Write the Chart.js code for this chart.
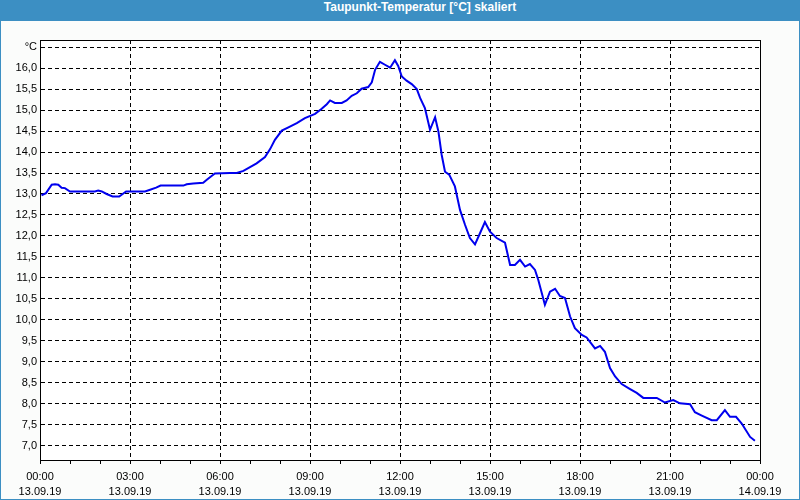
<!DOCTYPE html>
<html>
<head>
<meta charset="utf-8">
<script src="https://cdn.jsdelivr.net/npm/chart.js@4"></script>
<style>
  html, body { margin: 0; padding: 0; }
  #frame { position: relative; width: 798px; height: 478px; background: #3c8fc3;
           padding: 21px 1px 1px 1px; }
  #title { position: absolute; left: 0; top: 0; width: 800px; height: 21px; line-height: 22px;
           box-sizing: border-box; padding-left: 40px; text-align: center;
           color: #fff; font: bold 12px "Liberation Sans", Arial, sans-serif; }
  #body { width: 798px; height: 478px; background: #fbfcfb; }
</style>
</head>
<body>
<div id="frame">
  <div id="title">Taupunkt-Temperatur [°C] skaliert</div>
  <div id="body"><canvas id="chart" width="798" height="478"></canvas></div>
</div>
<script>
// hours since 13.09.19 00:00
var hours = [0.05, 0.2, 0.39, 0.5, 0.61, 0.72, 0.83, 1.0, 1.83, 1.94, 2.06, 2.22, 2.42, 2.64, 2.87,
  3.5, 3.67, 3.87, 4.02, 4.78, 4.89, 5.11, 5.44, 5.56, 5.72, 5.83, 6.33, 6.56, 6.78, 7.0, 7.22,
  7.5, 7.67, 7.83, 8.06, 8.28, 8.56, 8.83, 9.17, 9.39, 9.56, 9.67, 9.83, 10.06, 10.22, 10.39,
  10.56, 10.72, 10.94, 11.06, 11.17, 11.33, 11.5, 11.67, 11.83, 11.94, 12.06, 12.22, 12.39,
  12.56, 12.67, 12.83, 13.0, 13.17, 13.28, 13.39, 13.5, 13.64, 13.83, 14.0, 14.17, 14.33, 14.5,
  14.67, 14.83, 15.0, 15.22, 15.5, 15.67, 15.83, 16.0, 16.17, 16.33, 16.5, 16.61, 16.83, 17.0,
  17.17, 17.33, 17.5, 17.67, 17.83, 18.06, 18.22, 18.5, 18.67, 18.83, 19.0, 19.17, 19.39, 19.67,
  19.89, 20.11, 20.56, 20.83, 21.11, 21.33, 21.67, 21.83, 22.06, 22.39, 22.56, 22.83, 23.0,
  23.2, 23.39, 23.67, 23.83];
var dewPoint = [12.97, 13.02, 13.22, 13.23, 13.22, 13.15, 13.14, 13.06, 13.06, 13.08, 13.06, 13.0,
  12.94, 12.94, 13.06, 13.06, 13.1, 13.15, 13.2, 13.2, 13.23, 13.25, 13.27, 13.34, 13.43, 13.49,
  13.5, 13.5, 13.55, 13.64, 13.73, 13.88, 14.07, 14.29, 14.51, 14.59, 14.69, 14.81, 14.91, 15.03,
  15.14, 15.23, 15.17, 15.17, 15.23, 15.34, 15.4, 15.51, 15.55, 15.66, 15.96, 16.15, 16.08, 16.01,
  16.19, 16.05, 15.8, 15.7, 15.62, 15.5, 15.29, 15.05, 14.53, 14.83, 14.49, 13.93, 13.53, 13.46,
  13.18, 12.62, 12.26, 11.95, 11.8, 12.07, 12.33, 12.1, 11.95, 11.84, 11.31, 11.31, 11.43, 11.27,
  11.33, 11.19, 10.95, 10.36, 10.67, 10.74, 10.57, 10.52, 10.08, 9.8, 9.64, 9.58, 9.32, 9.38, 9.24,
  8.85, 8.65, 8.47, 8.35, 8.26, 8.14, 8.14, 8.03, 8.09, 8.01, 7.99, 7.8, 7.72, 7.61, 7.61, 7.85,
  7.69, 7.69, 7.53, 7.21, 7.12];
var yTicks = [7.0, 7.5, 8.0, 8.5, 9.0, 9.5, 10.0, 10.5, 11.0, 11.5, 12.0, 12.5, 13.0, 13.5,
  14.0, 14.5, 15.0, 15.5, 16.0, 16.5];
var timeLabels = ["00:00", "03:00", "06:00", "09:00", "12:00", "15:00", "18:00", "21:00", "00:00"];
var dateLabels = ["13.09.19", "13.09.19", "13.09.19", "13.09.19", "13.09.19", "13.09.19",
  "13.09.19", "13.09.19", "14.09.19"];

var points = [];
for (var i = 0; i < hours.length; i++) {
  points.push({ x: hours[i], y: dewPoint[i] });
}

// white plot background + solid frame round the plot area
var plotFrame = {
  id: "plotFrame",
  beforeDraw: function(chart) {
    var a = chart.chartArea, ctx = chart.ctx;
    ctx.save();
    ctx.fillStyle = "#ffffff";
    ctx.fillRect(a.left, a.top, a.right - a.left, a.bottom - a.top);
    ctx.restore();
  },
  afterDraw: function(chart) {
    var a = chart.chartArea, ctx = chart.ctx;
    ctx.save();
    ctx.strokeStyle = "#000";
    ctx.lineWidth = 1;
    ctx.strokeRect(Math.round(a.left) + 0.5, Math.round(a.top) + 0.5,
      Math.round(a.right - a.left), Math.round(a.bottom - a.top));
    ctx.restore();
  }
};

var font = { family: "'Liberation Sans', Arial, sans-serif", size: 11, lineHeight: 1.4 };

new Chart(document.getElementById("chart"), {
  type: "line",
  data: {
    datasets: [{
      data: points,
      borderColor: "#0000ee",
      borderWidth: 2,
      pointRadius: 0,
      tension: 0,
      fill: false
    }]
  },
  options: {
    responsive: false,
    animation: false,
    layout: { padding: { left: 0, top: 19, right: 39, bottom: 0 } },
    plugins: { legend: { display: false }, tooltip: { enabled: false }, title: { display: false } },
    scales: {
      x: {
        type: "linear",
        min: 0,
        max: 24,
        afterFit: function(scale) { scale.height = 39; },
        ticks: {
          stepSize: 1,
          autoSkip: false,
          maxRotation: 0,
          padding: 5,
          color: "#000",
          font: font,
          callback: function(v) {
            if (v % 3 !== 0) return "";
            return [timeLabels[v / 3], dateLabels[v / 3]];
          }
        },
        grid: {
          color: function(c) { return c.tick && c.tick.value % 3 === 0 ? "#000" : "rgba(0,0,0,0)"; },
          tickColor: "#000",
          tickLength: 4,
          tickBorderDash: []
        },
        border: { color: "#000", dash: [4, 3] }
      },
      y: {
        min: 6.66,
        max: 16.67,
        afterFit: function(scale) { scale.width = 39; },
        afterBuildTicks: function(scale) {
          scale.ticks = yTicks.map(function(v) { return { value: v }; });
        },
        ticks: {
          padding: 3,
          color: "#000",
          font: font,
          callback: function(v) {
            if (v === 16.5) return "°C";
            return v.toFixed(1).replace(".", ",");
          }
        },
        grid: { color: "#000", drawTicks: false, tickLength: 0 },
        border: { color: "#000", dash: [4, 3] }
      }
    }
  },
  plugins: [plotFrame]
});
</script>
</body>
</html>
